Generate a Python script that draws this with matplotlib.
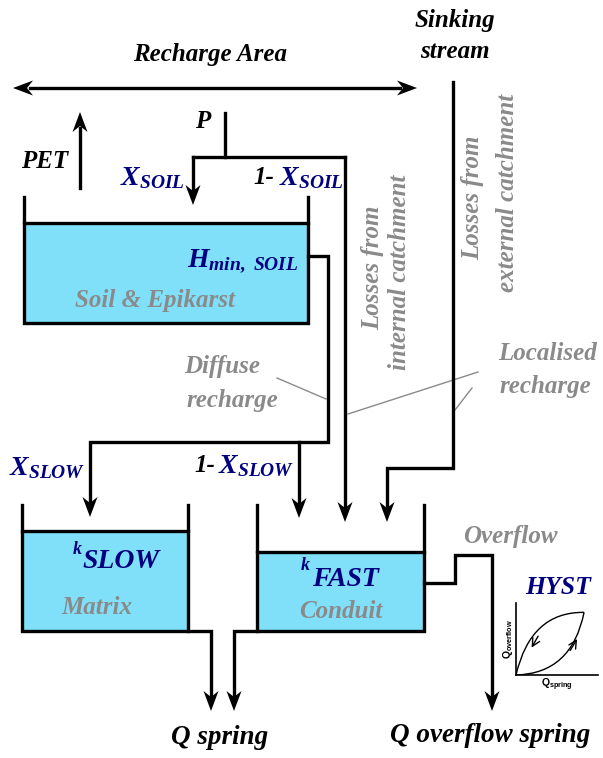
import numpy as np
import matplotlib
import matplotlib.pyplot as plt
from matplotlib.patches import Polygon, Rectangle, PathPatch
from matplotlib.path import Path

plt.rcParams['mathtext.fontset'] = 'custom'
plt.rcParams['mathtext.it'] = 'Liberation Serif:bold:italic'
plt.rcParams['mathtext.rm'] = 'Liberation Serif:bold:italic'
plt.rcParams['mathtext.bf'] = 'Liberation Serif:bold:italic'
plt.rcParams['mathtext.sf'] = 'Liberation Sans:bold'

# tanks: left wall, right wall, wall top, water level, bottom
tank_names = ['soil', 'slow', 'fast']
tank_left = [24, 22, 257]
tank_right = [308, 188, 424]
tank_top = [197, 505, 505]
tank_water = [223, 531, 552]
tank_bottom = [323, 631, 631]

# flow lines (pixel coords, y down) and arrow tips
flow_x = [
    [30, 400],
    [453, 453, 387, 387],
    [225, 225],
    [193, 345],
    [193, 193],
    [345, 345],
    [80, 80],
    [308, 328, 328, 90, 90],
    [299, 299],
    [188, 211, 211],
    [257, 234, 234],
    [424, 455, 455, 492, 492],
]
flow_y = [
    [88, 88],
    [82, 468, 468, 506],
    [113, 157],
    [157, 157],
    [157, 190],
    [157, 506],
    [188, 128],
    [256, 256, 442, 442, 502],
    [442, 502],
    [631, 631, 695],
    [631, 631, 695],
    [583, 583, 555, 555, 695],
]
head_x = [13, 417, 387, 193, 345, 80, 90, 299, 211, 234, 492]
head_y = [88, 88, 522, 205, 522, 112, 517, 518, 711, 711, 711]
head_dir = ['l', 'r', 'd', 'd', 'd', 'u', 'd', 'd', 'd', 'd', 'd']

# hysteresis loop (inset units): start, control, end
hyst_up = [(0.0, 0.0), (0.68, 0.02), (0.83, 0.87)]
hyst_down = [(0.83, 0.87), (0.18, 0.88), (0.0, 0.0)]

navy = '#00007f'
grey = '#8a8a8a'
water = '#80e0fa'
lw = 2.4

fig = plt.figure(figsize=(6.03, 7.58), dpi=100)
ax = fig.add_axes([0, 0, 1, 1])
ax.set_xlim(0, 603)
ax.set_ylim(758, 0)
ax.axis('off')


def head(x, y, d, L=20, W=7.5, N=6):
    pts = np.array([[0, 0], [-L, W], [-L + N, 0], [-L, -W]], dtype=float)
    c, s = {'r': (1, 0), 'l': (-1, 0), 'd': (0, 1), 'u': (0, -1)}[d]
    xy = np.column_stack([x + pts[:, 0] * c - pts[:, 1] * s,
                          y + pts[:, 0] * s + pts[:, 1] * c])
    ax.add_patch(Polygon(xy, closed=True, color='black', lw=0, zorder=5))


for i in range(len(tank_names)):
    x0, x1 = tank_left[i], tank_right[i]
    ax.add_patch(Rectangle((x0, tank_water[i]), x1 - x0, tank_bottom[i] - tank_water[i],
                           facecolor=water, edgecolor='none', zorder=1))
    ax.plot([x0, x0, x1, x1], [tank_top[i], tank_bottom[i], tank_bottom[i], tank_top[i]],
            color='black', lw=lw, solid_joinstyle='miter', zorder=3)
    ax.plot([x0, x1], [tank_water[i], tank_water[i]], color='black', lw=lw, zorder=3)

for xs, ys in zip(flow_x, flow_y):
    ax.plot(xs, ys, color='black', lw=lw, solid_joinstyle='miter', zorder=3)
for x, y, d in zip(head_x, head_y, head_dir):
    head(x, y, d)

# pointer lines
ax.plot([277, 326], [378, 399], color=grey, lw=1)
ax.plot([348, 478], [414, 372], color=grey, lw=1)
ax.plot([455, 472], [410, 388], color=grey, lw=1)

font = dict(family='Liberation Serif', weight='bold', style='italic')
fs = 18
fm = 20


def txt(x, y, s, c='black', size=fs, **kw):
    ax.text(x, y, s, color=c, fontsize=size, ha=kw.pop('ha', 'center'),
            va=kw.pop('va', 'center'), zorder=6, **font, **kw)


txt(210, 55, 'Recharge Area')
txt(455, 20, 'Sinking')
txt(455, 51, 'stream')
txt(203, 122, 'P')
txt(45, 162, 'PET')
txt(152, 178, r'$X_{SOIL}$', navy, size=fm)
txt(264, 178, '1-')
txt(311, 178, r'$X_{SOIL}$', navy, size=fm)
txt(298, 261, r'$H_{min,\ SOIL}$', navy, size=fm, ha='right')
txt(155, 301, 'Soil & Epikarst', grey)
txt(373, 268, 'Losses from', grey, rotation=90)
txt(400, 272, 'internal catchment', grey, rotation=90)
txt(473, 198, 'Losses from', grey, rotation=90)
txt(507, 193, 'external catchment', grey, rotation=90)
txt(222, 367, 'Diffuse', grey)
txt(232, 401, 'recharge', grey)
txt(548, 353, 'Localised', grey)
txt(545, 386, 'recharge', grey)
txt(47, 468, r'$X_{SLOW}$', navy, size=fm)
txt(205, 466, '1-')
txt(256, 466, r'$X_{SLOW}$', navy, size=fm)
txt(77, 550, 'k', navy, size=13)
txt(121, 562, 'SLOW', navy, size=20)
txt(97, 607, 'Matrix', grey)
txt(305, 566, 'k', navy, size=13)
txt(345, 580, 'FAST', navy, size=20)
txt(341, 611, 'Conduit', grey)
txt(510, 537, 'Overflow', grey)
txt(558, 587, 'HYST', navy, size=18.5)
txt(220, 737, 'Q spring', size=19.5)
txt(490, 736, 'Q overflow spring', size=19.5)

# hysteresis inset
ins = fig.add_axes([516 / 603, (758 - 675) / 758, 82 / 603, 72 / 758])
ins.set_xlim(0, 1)
ins.set_ylim(0, 1)
ins.set_xticks([])
ins.set_yticks([])
for sp in ['top', 'right']:
    ins.spines[sp].set_visible(False)
for sp in ['left', 'bottom']:
    ins.spines[sp].set_linewidth(1.2)
for pts in [hyst_up, hyst_down]:
    ins.add_patch(PathPatch(Path(pts, [Path.MOVETO, Path.CURVE3, Path.CURVE3]),
                            facecolor='none', edgecolor='black', lw=1))
ins.annotate('', xy=(0.19, 0.38), xytext=(0.27, 0.54),
             arrowprops=dict(arrowstyle='->', lw=1, mutation_scale=14,
                             shrinkA=0, shrinkB=0))
ins.annotate('', xy=(0.745, 0.5), xytext=(0.66, 0.34),
             arrowprops=dict(arrowstyle='->', lw=1, mutation_scale=14,
                             shrinkA=0, shrinkB=0))
ins.set_xlabel(r'$\mathsf{Q_{spring}}$', fontsize=7.5, labelpad=1)
ins.set_ylabel(r'$\mathsf{Q_{overflow}}$', fontsize=7.5, labelpad=1)
ins.patch.set_alpha(0)

fig.savefig('out.png', dpi=100)
